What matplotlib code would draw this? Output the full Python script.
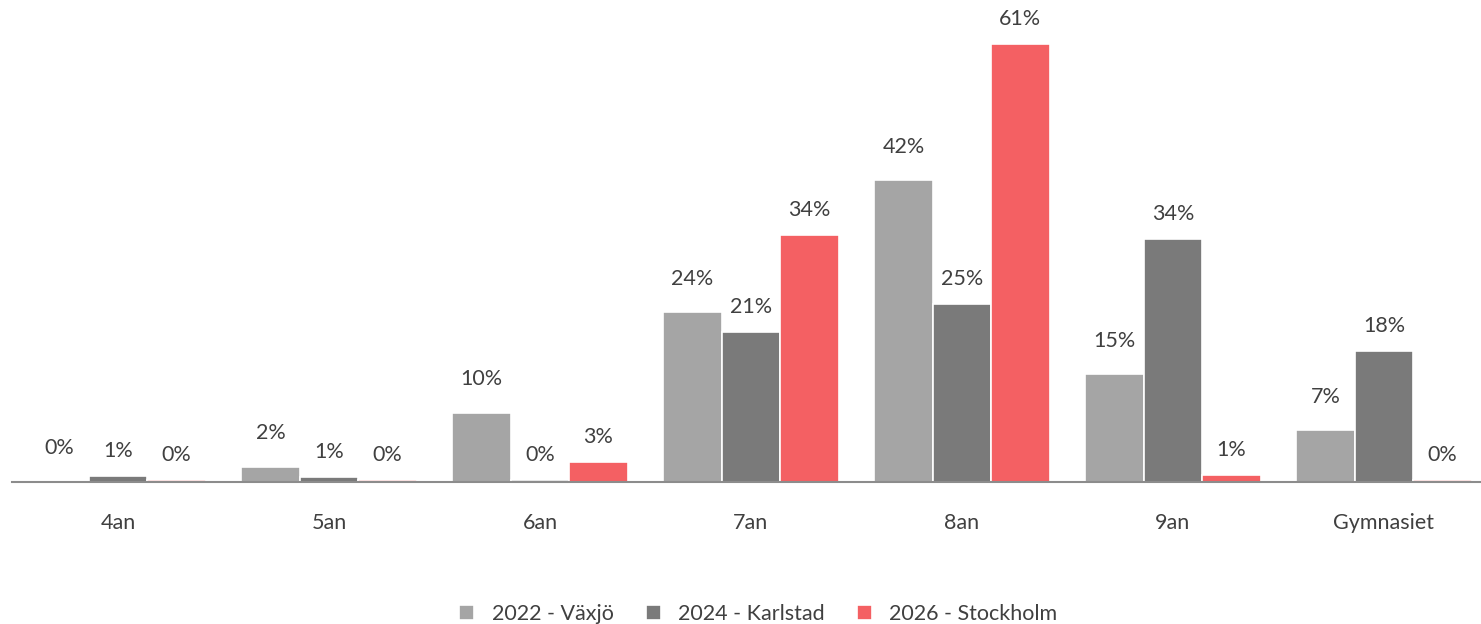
import matplotlib.pyplot as plt
import numpy as np

categories = ["4an", "5an", "6an", "7an", "8an", "9an", "Gymnasiet"]
vaxjo = [0.0, 2.1, 9.6, 23.6, 42.0, 15.0, 7.2]
karlstad = [0.8, 0.7, 0.3, 20.9, 24.8, 33.8, 18.2]
stockholm = [0.3, 0.3, 2.8, 34.4, 61.0, 1.0, 0.3]
series_names = ["2022 - Växjö", "2024 - Karlstad", "2026 - Stockholm"]
colors = ["#A5A5A5", "#7A7A7A", "#F46063"]
label_offsets = [17, 11, 11]  # Växjö labels sit a bit higher in the original

plt.rcParams["font.family"] = ["Lato", "DejaVu Sans"]
text_color = "#404040"
fs = 15.5

fig = plt.figure(figsize=(14.81, 6.24), dpi=100)
ax = fig.add_axes([0.0084, 0.2276, 0.9973, 0.7724])

x = np.arange(len(categories))
width = 0.277
for i, (vals, name, col) in enumerate(zip([vaxjo, karlstad, stockholm], series_names, colors)):
    pos = x + (i - 1) * width
    bars = ax.bar(pos, vals, width, color=col, edgecolor="white", linewidth=1.2, label=name)
    for b, v in zip(bars, vals):
        ax.annotate(f"{v:.0f}%", (b.get_x() + b.get_width() / 2, v),
                    xytext=(0, label_offsets[i]), textcoords="offset points",
                    ha="center", va="bottom", fontsize=fs, color=text_color)

ax.set_xlim(-0.5, len(categories) - 0.5)
ax.set_ylim(0, 67.1)
ax.set_xticks(x)
ax.set_xticklabels(categories, fontsize=fs, color=text_color)
ax.tick_params(axis="x", length=0, pad=22)
ax.set_yticks([])
for s in ["top", "right", "left"]:
    ax.spines[s].set_visible(False)
ax.spines["bottom"].set_color("#8C8C8C")
ax.spines["bottom"].set_linewidth(1.5)

leg = fig.legend(loc="center", bbox_to_anchor=(0.512, 0.016), ncol=3, frameon=False,
                 fontsize=fs, handlelength=0.7, handleheight=0.7, handletextpad=0.8,
                 columnspacing=1.5)
for t in leg.get_texts():
    t.set_color(text_color)

fig.savefig("out.png", dpi=100)
